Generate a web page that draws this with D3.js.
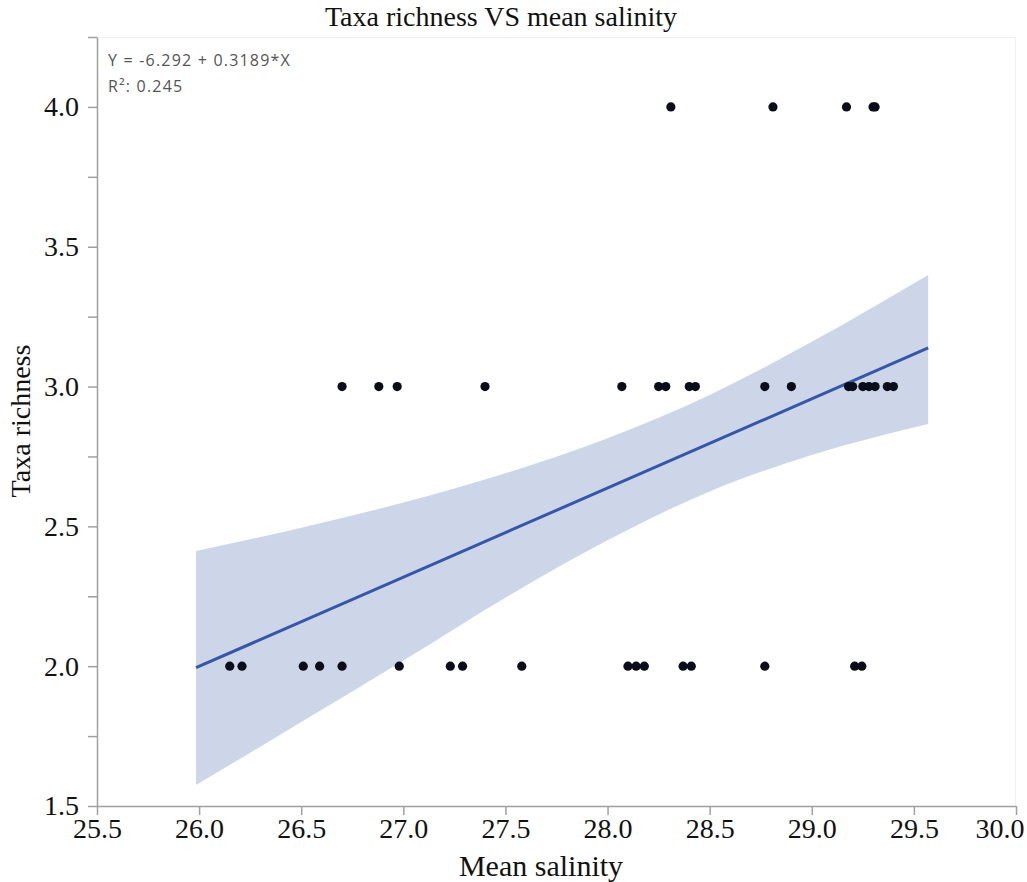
<!DOCTYPE html>
<html>
<head>
<meta charset="utf-8">
<script src="https://cdn.jsdelivr.net/npm/d3@7/dist/d3.min.js"></script>
<style>
  html, body { margin: 0; padding: 0; background: #fff; }
  svg { display: block; }
</style>
</head>
<body>
<svg id="chart" width="1027" height="882"></svg>
<script>
// Mean salinity of each sample and the number of taxa found there
const salinity = [
  // richness 2
  26.15, 26.21, 26.51, 26.59, 26.70, 26.98, 27.23, 27.29, 27.58,
  28.10, 28.14, 28.18, 28.37, 28.41, 28.77, 29.21, 29.245,
  // richness 3
  26.70, 26.88, 26.97, 27.40,
  28.07, 28.25, 28.285, 28.40, 28.43, 28.77, 28.90,
  29.18, 29.20, 29.25, 29.28, 29.31, 29.37, 29.40,
  // richness 4
  28.31, 28.81, 29.17, 29.30, 29.31
];
const richness = [
  2, 2, 2, 2, 2, 2, 2, 2, 2,
  2, 2, 2, 2, 2, 2, 2, 2,
  3, 3, 3, 3,
  3, 3, 3, 3, 3, 3, 3,
  3, 3, 3, 3, 3, 3, 3,
  4, 4, 4, 4, 4
];

// Fitted line as reported: Y = intercept + slope * X
const intercept = -6.292;
const slope = 0.3189;
const rSquared = 0.245;
const fitRange = [25.985, 29.57];

// 95% confidence band of the fit, lower and upper bounds at these salinities
const bandX     = [25.985, 26.5, 27.0, 27.5, 28.0, 28.5, 29.0, 29.57];
const bandLower = [1.575, 1.80, 2.02, 2.245, 2.45, 2.625, 2.755, 2.866];
const bandUpper = [2.412, 2.495, 2.585, 2.69, 2.815, 2.97, 3.16, 3.399];

const xTicks = [25.5, 26.0, 26.5, 27.0, 27.5, 28.0, 28.5, 29.0, 29.5, 30.0];
const yTicks = [1.5, 2.0, 2.5, 3.0, 3.5, 4.0];
const yMinorTicks = [1.75, 2.25, 2.75, 3.25, 3.75, 4.25];

const width = 1027, height = 882;
const margin = { top: 37, right: 11, bottom: 76, left: 97 };
const innerW = width - margin.left - margin.right;
const innerH = height - margin.top - margin.bottom;

const serif = "'Liberation Serif', 'Times New Roman', serif";

const svg = d3.select("#chart");
const g = svg.append("g").attr("transform", `translate(${margin.left},${margin.top})`);

const x = d3.scaleLinear().domain([25.5, 30.0]).range([0, innerW]);
const y = d3.scaleLinear().domain([1.5, 4.25]).range([innerH, 0]);

// light frame on the top and right of the plot area
g.append("path")
  .attr("d", `M0,0.5H${innerW - 0.5}V${innerH}`)
  .attr("fill", "none")
  .attr("stroke", "#f0f0f0")
  .attr("stroke-width", 1);

// confidence band
g.append("path")
  .datum(bandX.map((v, i) => ({ x: v, lo: bandLower[i], hi: bandUpper[i] })))
  .attr("fill", "#ccd6e8")
  .attr("d", d3.area()
    .curve(d3.curveMonotoneX)
    .x(d => x(d.x)).y0(d => y(d.lo)).y1(d => y(d.hi)));

// regression line
g.append("path")
  .datum(fitRange)
  .attr("fill", "none")
  .attr("stroke", "#3656a8")
  .attr("stroke-width", 3)
  .attr("d", d3.line().x(d => x(d)).y(d => y(intercept + slope * d)));

// sample points
g.append("g")
  .selectAll("circle")
  .data(salinity.map((v, i) => [v, richness[i]]))
  .join("circle")
  .attr("cx", d => x(d[0]))
  .attr("cy", d => y(d[1]))
  .attr("r", 4.6)
  .attr("fill", "#0b0e1a");

// axes
const axisColor = "#a0a0a0";
const xAxis = g.append("g")
  .attr("transform", `translate(0,${innerH})`)
  .call(d3.axisBottom(x).tickValues(xTicks).tickFormat(d3.format(".1f")).tickSize(9).tickSizeOuter(0));
const yAxis = g.append("g")
  .call(d3.axisLeft(y).tickValues(yTicks).tickFormat(d3.format(".1f")).tickSize(9).tickSizeOuter(0));
g.append("g")
  .call(d3.axisLeft(y).tickValues(yMinorTicks).tickFormat("").tickSize(9).tickSizeOuter(0))
  .call(a => a.select(".domain").remove());

g.selectAll(".domain, .tick line").attr("stroke", axisColor).attr("stroke-width", 1.5);
xAxis.selectAll("text")
  .attr("font-family", serif)
  .attr("font-size", 28).attr("fill", "#111");
// keep the last label inside the page
xAxis.selectAll(".tick").filter(d => d === 30.0).select("text")
  .attr("text-anchor", "end").attr("x", 8);
yAxis.selectAll("text")
  .attr("font-family", serif)
  .attr("font-size", 28).attr("fill", "#111").attr("x", -18);

// titles
svg.append("text")
  .attr("x", 501).attr("y", 26)
  .attr("text-anchor", "middle")
  .attr("font-family", serif)
  .attr("font-size", 28).attr("fill", "#111")
  .text("Taxa richness VS mean salinity");

svg.append("text")
  .attr("x", 541).attr("y", 876)
  .attr("text-anchor", "middle")
  .attr("font-family", serif)
  .attr("font-size", 30).attr("fill", "#111")
  .text("Mean salinity");

svg.append("text")
  .attr("transform", `translate(30,421) rotate(-90)`)
  .attr("text-anchor", "middle")
  .attr("font-family", serif)
  .attr("font-size", 28).attr("fill", "#111")
  .text("Taxa richness");

// equation annotation
const note = g.append("g")
  .attr("font-family", "'Open Sans', 'Noto Sans', sans-serif")
  .attr("font-size", 16).attr("fill", "#555")
  .attr("letter-spacing", 1.2);
note.append("text").attr("x", 11).attr("y", 29)
  .text(`Y = ${intercept} + ${slope}*X`);
note.append("text").attr("x", 11).attr("y", 55)
  .text(`R²: ${rSquared}`);
</script>
</body>
</html>
